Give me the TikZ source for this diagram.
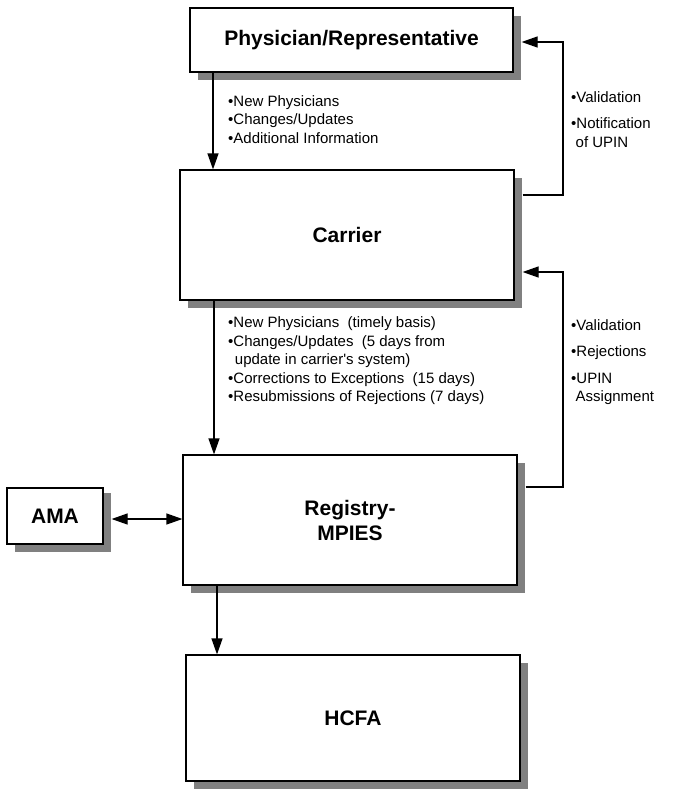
\documentclass[tikz,border=0pt]{standalone}
\usepackage{fontspec}
\setmainfont{Liberation Sans}
\usetikzlibrary{arrows.meta,shadows}
\begin{document}
\begin{tikzpicture}[x=1pt,y=-1pt,
  box/.style={draw=black, line width=1.2pt, fill=white, inner sep=0pt,
    font=\bfseries\fontsize{21}{25}\selectfont, align=center,
    drop shadow={shadow xshift=8pt, shadow yshift=-8pt, fill=black!50, opacity=1}},
  arr/.style={line width=1.2pt, -{Triangle[length=16pt,width=11pt]}},
  darr/.style={line width=1.2pt, {Triangle[length=16pt,width=11pt]}-{Triangle[length=16pt,width=11pt]}},
  lbl/.style={inner sep=0pt, align=left, font=\fontsize{15}{18.6}\selectfont}
]
\useasboundingbox (0,0) rectangle (673,789);
\node[box, minimum width=323pt, minimum height=64pt] (phys) at (351.5,40) {Physician/Representative};
\node[box, minimum width=334pt, minimum height=130pt] (carrier) at (347,235) {Carrier};
\node[box, minimum width=334pt, minimum height=130pt] (reg) at (350,520) {Registry-\\MPIES};
\node[box, minimum width=334pt, minimum height=126pt] (hcfa) at (353,718) {HCFA};
\node[box, minimum width=96pt, minimum height=56pt,
  drop shadow={shadow xshift=8pt, shadow yshift=-5pt, fill=black!50, opacity=1}] (ama) at (55,516) {AMA};

% downward arrows
\draw[arr] (phys.south -| 213,0) -- (carrier.north -| 213,0);
\draw[arr] (carrier.south -| 214,0) -- (reg.north -| 214,0);
\draw[arr] (reg.south -| 217,0) -- (hcfa.north -| 217,0);
% AMA <-> Registry
\draw[darr] ([xshift=8pt]ama.east |- 0,519) -- (reg.west |- 0,519);
% feedback loops
\coordinate (c1) at (563,195);
\coordinate (c2) at (563,42);
\draw[arr] ([xshift=8pt]carrier.east |- c1) -- (c1) -- (c2) -- ([xshift=8pt]phys.east |- c2);
\coordinate (r1) at (563,487);
\coordinate (r2) at (563,272);
\draw[arr] ([xshift=8pt]reg.east |- r1) -- (r1) -- (r2) -- ([xshift=8pt]carrier.east |- r2);

% labels
\node[lbl, anchor=north west] (t1) at (228,95) {•New Physicians\\•Changes/Updates\\•Additional Information};
\node[lbl, anchor=north west] (t2) at (228,316.5) {•New Physicians\ \ (timely basis)\\•Changes/Updates\ \ (5 days from\\\hspace{0.45em}update in carrier\textquotesingle s system)\\•Corrections to Exceptions\ \ (15 days)\\•Resubmissions of Rejections (7 days)};
\node[lbl, anchor=north west] (t3) at (571,91) {•Validation\\[8pt]•Notification\\\hspace{0.3em}of UPIN};
\node[lbl, anchor=north west] (t4) at (571,319) {•Validation\\[8pt]•Rejections\\[8pt]•UPIN\\\hspace{0.3em}Assignment};
\end{tikzpicture}
\end{document}
